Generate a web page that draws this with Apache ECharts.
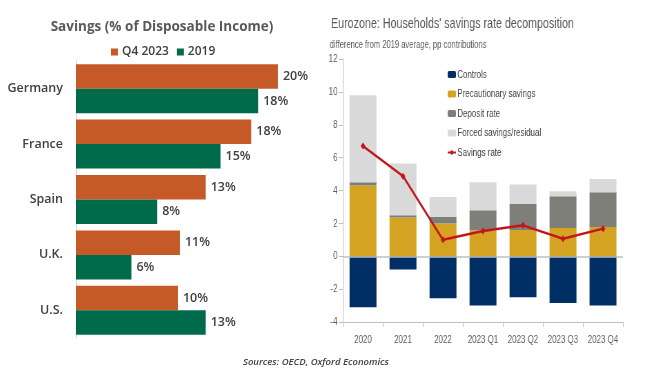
<!DOCTYPE html>
<html><head><meta charset="utf-8">
<script src="https://cdn.jsdelivr.net/npm/echarts@6/dist/echarts.min.js"></script>
<style>
html,body{margin:0;padding:0;background:#fff}
#wrap{position:relative;width:649px;height:384px;overflow:hidden}
#left{position:absolute;left:0;top:0;width:649px;height:384px}
#right{position:absolute;left:300px;top:0;width:506px;height:384px;transform:scaleX(0.69);transform-origin:0 0}
</style>
</head><body><div id="wrap"><div id="left"></div><div id="right"></div></div>
<script>
// Left chart data
const countries = ['Germany', 'France', 'Spain', 'U.K.', 'U.S.'];
const q42023 = [20.4, 17.7, 13.1, 10.5, 10.3];
const y2019 = [18.4, 14.6, 8.2, 5.6, 13.1];

// Right chart data
const periods = ['2020', '2021', '2022', '2023 Q1', '2023 Q2', '2023 Q3', '2023 Q4'];
const controls = [-3.1, -0.8, -2.55, -3.0, -2.5, -2.85, -3.0];
const precautionary = [4.3, 2.35, 2.0, 1.58, 1.6, 1.72, 1.78];
const depositRate = [0.2, 0.15, 0.4, 1.22, 1.6, 1.93, 2.12];
const forcedSavings = [5.3, 3.15, 1.2, 1.7, 1.16, 0.31, 0.8];
const savingsRate = [6.7, 4.87, 1.0, 1.53, 1.88, 1.07, 1.68];

const wide = "'Open Sans', 'Noto Sans', sans-serif";
const arial = "'Liberation Sans', Arial, sans-serif";

const left = echarts.init(document.getElementById('left'), null, {renderer: 'canvas'});
left.setOption({
  animation: false,
  backgroundColor: '#fff',
  title: {text: 'Savings (% of Disposable Income)', left: 157, top: 15, textAlign: 'center',
    textStyle: {fontFamily: wide, fontSize: 13.5, fontWeight: 'bold', color: '#595959'}},
  legend: {data: ['Q4 2023', '2019'], left: 106, top: 41, itemWidth: 7, itemHeight: 7, itemGap: 8,
    icon: 'rect', textStyle: {fontFamily: wide, fontSize: 12, fontWeight: 600, color: '#404040', padding: [0,0,0,-1]}},
  grid: {left: 76, top: 61, width: 247.5, height: 277},
  xAxis: {type: 'value', min: 0, max: 25, show: false},
  yAxis: {type: 'category', data: countries, inverse: true,
    axisLine: {show: true, lineStyle: {color: '#d9d9d9'}}, axisTick: {show: false},
    axisLabel: {fontFamily: wide, fontSize: 12.5, fontWeight: 600, color: '#404040', margin: 13}},
  series: [
    {name: 'Q4 2023', type: 'bar', data: q42023, barWidth: 24.5, barGap: '0%', itemStyle: {color: '#C55A28'},
     label: {show: true, position: 'right', distance: 5, fontFamily: wide, fontSize: 12.5, fontWeight: 600, color: '#404040',
       formatter: p => Math.round(p.value) + '%'}},
    {name: '2019', type: 'bar', data: y2019, barWidth: 24.5, barGap: '0%', itemStyle: {color: '#006B4A'},
     label: {show: true, position: 'right', distance: 5, fontFamily: wide, fontSize: 12.5, fontWeight: 600, color: '#404040',
       formatter: p => Math.round(p.value) + '%'}}
  ],
  graphic: [
    {type: 'text', left: 243, top: 357,
     style: {text: 'Sources: OECD, Oxford Economics', font: "italic 600 9.5px 'Open Sans', sans-serif", fill: '#404040'}}
  ]
});

const right = echarts.init(document.getElementById('right'), null, {renderer: 'canvas'});
right.setOption({
  animation: false,
  backgroundColor: 'transparent',
  title: [
    {text: "Eurozone: Households' savings rate decomposition", left: 45, top: 16, padding: 0,
     textStyle: {fontFamily: arial, fontSize: 15.5, fontWeight: 'normal', color: '#595959'}},
    {text: 'difference from 2019 average, pp contributions', left: 43, top: 39, padding: 0,
     textStyle: {fontFamily: arial, fontSize: 11, fontWeight: 'normal', color: '#595959'}}
  ],
  legend: {data: ['Controls', 'Precautionary savings', 'Deposit rate', 'Forced savings/residual', 'Savings rate'],
    orient: 'vertical', left: 208, top: 63, itemWidth: 12, itemHeight: 7, itemGap: 6.5,
    textStyle: {fontFamily: arial, fontSize: 11.5, color: '#404040', lineHeight: 13, padding: [0,0,0,-3]}},
  grid: {left: 62.3, top: 59, width: 405.8, height: 263},
  xAxis: {type: 'category', data: periods,
    axisLine: {onZero: false, lineStyle: {color: '#bfbfbf'}},
    axisTick: {show: true, length: 5, lineStyle: {color: '#bfbfbf'}},
    axisLabel: {fontFamily: arial, fontSize: 11.5, color: '#595959', margin: 12, interval: 0}},
  yAxis: {type: 'value', min: -4, max: 12, interval: 2,
    axisLine: {show: true, lineStyle: {color: '#bfbfbf'}},
    axisTick: {show: true, length: 6, lineStyle: {color: '#bfbfbf'}},
    splitLine: {show: false},
    axisLabel: {fontFamily: arial, fontSize: 11.5, color: '#595959', margin: 8}},
  series: [
    {name: 'Controls', type: 'bar', stack: 'ez', data: controls, barWidth: 39, itemStyle: {color: '#002F65'},
     markLine: {silent: true, symbol: 'none', label: {show: false},
       lineStyle: {color: '#bfbfbf', type: 'solid', width: 1.5}, data: [{yAxis: 0}]}},
    {name: 'Precautionary savings', type: 'bar', stack: 'ez', data: precautionary, barWidth: 39, itemStyle: {color: '#D4A322'}},
    {name: 'Deposit rate', type: 'bar', stack: 'ez', data: depositRate, barWidth: 39, itemStyle: {color: '#7F7F7A'}},
    {name: 'Forced savings/residual', type: 'bar', stack: 'ez', data: forcedSavings, barWidth: 39, itemStyle: {color: '#D9D9D9'}},
    {name: 'Savings rate', type: 'line', data: savingsRate, symbol: 'diamond', symbolSize: 7,
     lineStyle: {color: '#C3161C', width: 2.5}, itemStyle: {color: '#C3161C'}, z: 5}
  ]
});
</script></body></html>
